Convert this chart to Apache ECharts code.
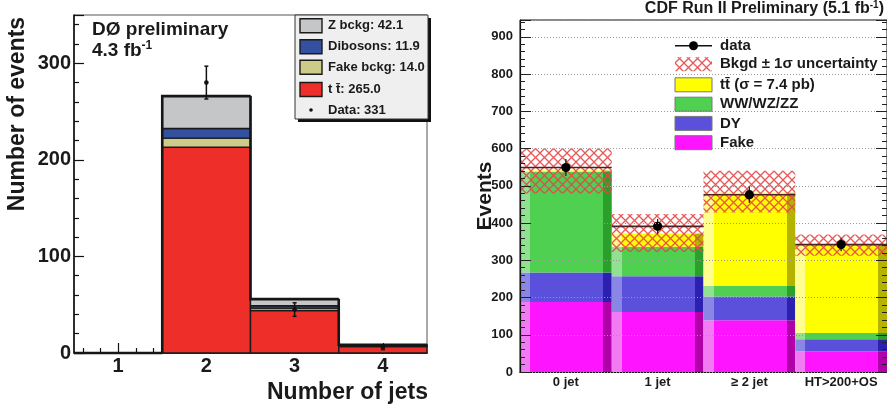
<!DOCTYPE html>
<html><head><meta charset="utf-8">
<script src="https://cdn.jsdelivr.net/npm/echarts@6/dist/echarts.min.js"></script>
<style>html,body{margin:0;padding:0;background:#fff}#c{width:887px;height:412px}</style>
</head><body><div id="c"></div>
<script>
// ---------- Left panel (DØ) ----------
const jetBins = [1, 2, 3, 4];
const jetTickLabels = ['1', '2', '3', '4'];
const jetMinorTicks = [0.6, 0.8, 1.2, 1.4, 1.6, 1.8, 2.2, 2.4, 2.6, 2.8, 3.2, 3.4, 3.6, 3.8, 4.2, 4.4];
const ttbarD0 = [0, 213, 44, 6.8];
const fakeD0 = [0, 9.5, 2.5, 0.5];
const dibosonD0 = [0, 10, 2.5, 0.3];
const zD0 = [0, 33.5, 6.8, 0.9];
const dataD0 = [null, 280, 45, 6];
const dataErrD0 = [null, 17, 7, 2.5];
const legendD0 = ['Z bckg: 42.1', 'Dibosons: 11.9', 'Fake bckg: 14.0', 't t\u0304: 265.0', 'Data: 331'];

// ---------- Right panel (CDF) ----------
const cdfCats = ['0 jet', '1 jet', '\u2265 2 jet', 'HT>200+OS'];
const fakeCDF = [188, 161, 139, 56];
const dyCDF = [79, 96, 64, 32];
const dibCDF = [270, 79, 28, 17];
const ttCDF = [4, 36, 250, 237];
const bandLowCDF = [479, 322, 428, 312];
const bandHighCDF = [601, 424, 540, 369];
const dataCDF = [549, 391, 476, 342];
const dataErrCDF = [23, 20, 22, 18];
const legendCDF = ['data', 'Bkgd \u00b1 1\u03c3 uncertainty', 'tt\u0304 (\u03c3 = 7.4 pb)', 'WW/WZ/ZZ', 'DY', 'Fake'];

const FONT = "'Liberation Sans', Arial, Helvetica, sans-serif";
const D0C = { z: '#c5c6c8', dib: '#3450a0', fake: '#cccc88', tt: '#ee2e28' };
const CDFC = {
  fake: ['#f27af2', '#ff14ff', '#b000a8'],
  dy: ['#8a86e6', '#5a50dc', '#2c20b0'],
  dib: ['#92e092', '#50d050', '#2aa02a'],
  tt: ['#ffff90', '#ffff00', '#b4b400']
};

// hatch pattern
const hatch = document.createElement('canvas');
hatch.width = 9; hatch.height = 9;
const hc = hatch.getContext('2d');
hc.strokeStyle = 'rgba(228,70,70,0.9)'; hc.lineWidth = 1.3;
hc.beginPath(); hc.moveTo(0, 0); hc.lineTo(9, 9); hc.moveTo(9, 0); hc.lineTo(0, 9); hc.stroke();
const hatchFill = { image: hatch, repeat: 'repeat' };

function stackBases(layers) {
  const bases = []; let acc = layers[0].map(() => 0);
  layers.forEach(l => { bases.push(acc.slice()); acc = acc.map((a, i) => a + l[i]); });
  return { bases, tops: acc };
}
const d0 = stackBases([ttbarD0, fakeD0, dibosonD0, zD0]);
const cdf = stackBases([fakeCDF, dyCDF, dibCDF, ttCDF]);

function d0Layer(vals, bases, color) {
  return {
    type: 'custom', xAxisIndex: 0, yAxisIndex: 0, z: 2,
    data: jetBins.map((b, i) => [b, bases[i], bases[i] + vals[i]]),
    renderItem(p, api) {
      const x = api.value(0), lo = api.value(1), hi = api.value(2);
      if (hi - lo <= 0) return null;
      const a = api.coord([x - 0.5, hi]), b = api.coord([x + 0.5, lo]);
      return { type: 'rect', shape: { x: a[0], y: a[1], width: b[0] - a[0], height: b[1] - a[1] },
        style: { fill: color, stroke: '#1a1a1a', lineWidth: 1.4 } };
    }
  };
}
const d0Outline = {
  type: 'custom', xAxisIndex: 0, yAxisIndex: 0, z: 3,
  data: jetBins.map((b, i) => [b, d0.tops[i], i > 0 ? d0.tops[i - 1] : 0]),
  renderItem(p, api) {
    const x = api.value(0), t = api.value(1), pr = api.value(2);
    const p0 = api.coord([x - 0.5, pr]), p1 = api.coord([x - 0.5, t]), p2 = api.coord([x + 0.5, t]);
    return { type: 'polyline', shape: { points: [p0, p1, p2] }, style: { stroke: '#161616', lineWidth: 2.6, fill: null } };
  }
};
const d0Data = {
  type: 'custom', xAxisIndex: 0, yAxisIndex: 0, z: 4,
  data: jetBins.map((b, i) => [b, dataD0[i], dataErrD0[i]]).filter(d => d[1] != null),
  renderItem(p, api) {
    const x = api.value(0), v = api.value(1), e = api.value(2);
    const c = api.coord([x, v]), up = api.coord([x, v + e]), dn = api.coord([x, v - e]);
    return { type: 'group', children: [
      { type: 'line', shape: { x1: c[0], y1: up[1], x2: c[0], y2: dn[1] }, style: { stroke: '#111', lineWidth: 1.5 } },
      { type: 'line', shape: { x1: c[0] - 2, y1: up[1], x2: c[0] + 2, y2: up[1] }, style: { stroke: '#111', lineWidth: 1.5 } },
      { type: 'line', shape: { x1: c[0] - 2, y1: dn[1], x2: c[0] + 2, y2: dn[1] }, style: { stroke: '#111', lineWidth: 1.5 } },
      { type: 'circle', shape: { cx: c[0], cy: c[1], r: 2.3 }, style: { fill: '#111' } }
    ] };
  }
};

function shadedFill(c) {
  return new echarts.graphic.LinearGradient(0, 0, 1, 0, [
    { offset: 0, color: c[0] }, { offset: 0.11, color: c[0] }, { offset: 0.11, color: c[1] },
    { offset: 0.905, color: c[1] }, { offset: 0.905, color: c[2] }, { offset: 1, color: c[2] }]);
}
function cdfLayer(vals, bases, c) {
  return {
    type: 'custom', xAxisIndex: 1, yAxisIndex: 1, z: 2,
    data: cdfCats.map((n, i) => [i, bases[i], bases[i] + vals[i]]),
    renderItem(p, api) {
      const i = api.value(0), lo = api.value(1), hi = api.value(2);
      const a = api.coord([i, hi]), b = api.coord([i, lo]), w = api.size([1, 0])[0];
      return { type: 'rect', shape: { x: a[0] - w / 2, y: a[1], width: w, height: b[1] - a[1] },
        style: { fill: shadedFill(c) } };
    }
  };
}
const cdfBand = {
  type: 'custom', xAxisIndex: 1, yAxisIndex: 1, z: 3,
  data: cdfCats.map((n, i) => [i, bandLowCDF[i], bandHighCDF[i]]),
  renderItem(p, api) {
    const i = api.value(0), lo = api.value(1), hi = api.value(2);
    const a = api.coord([i, hi]), b = api.coord([i, lo]), w = api.size([1, 0])[0];
    return { type: 'rect', shape: { x: a[0] - w / 2, y: a[1], width: w, height: b[1] - a[1] },
      style: { fill: hatchFill } };
  }
};
const cdfData = {
  type: 'custom', xAxisIndex: 1, yAxisIndex: 1, z: 4,
  data: cdfCats.map((n, i) => [i, dataCDF[i], dataErrCDF[i]]),
  renderItem(p, api) {
    const i = api.value(0), v = api.value(1), e = api.value(2);
    const c = api.coord([i, v]), up = api.coord([i, v + e]), dn = api.coord([i, v - e]), w = api.size([1, 0])[0];
    return { type: 'group', children: [
      { type: 'line', shape: { x1: c[0] - w / 2, y1: c[1], x2: c[0] + w / 2, y2: c[1] }, style: { stroke: '#4a2222', lineWidth: 1.6 } },
      { type: 'line', shape: { x1: c[0], y1: up[1], x2: c[0], y2: dn[1] }, style: { stroke: '#222', lineWidth: 1.3 } },
      { type: 'circle', shape: { cx: c[0], cy: c[1], r: 4.6 }, style: { fill: '#000' } }
    ] };
  }
};

// legends (graphic)
const g = [];
// DØ texts
g.push({ type: 'text', x: 92, y: 30, style: { text: 'D\u00d8 preliminary', font: 'bold 19px ' + FONT, fill: '#1a1a1a', verticalAlign: 'middle' } });
g.push({ type: 'text', x: 92, y: 51, style: { text: '{a|4.3 fb}{s|-1}', verticalAlign: 'middle',
  rich: { a: { font: 'bold 19px ' + FONT, fill: '#1a1a1a', lineHeight: 22 }, s: { font: 'bold 12px ' + FONT, fill: '#1a1a1a', verticalAlign: 'top', lineHeight: 22 } } } });
g.push({ type: 'text', x: 18, y: 114, rotation: Math.PI / 2, style: { text: 'Number of events', font: 'bold 23px ' + FONT, fill: '#1a1a1a', align: 'center', verticalAlign: 'middle' } });
g.push({ type: 'text', x: 428, y: 393, style: { text: 'Number of jets', font: 'bold 23px ' + FONT, fill: '#1a1a1a', align: 'right', verticalAlign: 'middle' } });
// DØ legend box
g.push({ type: 'rect', shape: { x: 298, y: 18, width: 133, height: 104 }, style: { fill: '#111' }, z: 20 });
g.push({ type: 'rect', shape: { x: 295, y: 15, width: 133, height: 104 }, style: { fill: '#efefef', stroke: '#333', lineWidth: 1 }, z: 21 });
const d0Sw = [D0C.z, D0C.dib, D0C.fake, D0C.tt];
const d0Rows = [25.7, 46.7, 67.3, 89.5, 110];
d0Rows.forEach((y, k) => {
  if (k < 4) g.push({ type: 'rect', shape: { x: 300, y: y - 7, width: 22, height: 14 }, style: { fill: d0Sw[k], stroke: '#1a1a1a', lineWidth: 1.4 }, z: 22 });
  else g.push({ type: 'circle', shape: { cx: 311, cy: y, r: 1.8 }, style: { fill: '#111' }, z: 22 });
  g.push({ type: 'text', x: 328, y: y, style: { text: legendD0[k], font: 'bold 13px ' + FONT, fill: '#1a1a1a', verticalAlign: 'middle' }, z: 22 });
});
// CDF texts
g.push({ type: 'text', x: 884, y: 9, style: { text: '{t|CDF Run II Preliminary (5.1 fb}{s|-1}{t|)}', align: 'right', verticalAlign: 'middle',
  rich: { t: { font: 'bold 16px ' + FONT, fill: '#1a1a1a', lineHeight: 18 }, s: { font: 'bold 10px ' + FONT, fill: '#1a1a1a', verticalAlign: 'top', lineHeight: 18 } } } });
g.push({ type: 'text', x: 485, y: 196, rotation: Math.PI / 2, style: { text: 'Events', font: 'bold 21px ' + FONT, fill: '#1a1a1a', align: 'center', verticalAlign: 'middle' } });
const cdfRows = [45.7, 64.3, 84.8, 104.2, 123.4, 142.7];
const cdfSw = [null, null, CDFC.tt[1], CDFC.dib[1], CDFC.dy[1], CDFC.fake[1]];
cdfRows.forEach((y, k) => {
  if (k === 0) {
    g.push({ type: 'line', shape: { x1: 675, y1: y, x2: 712, y2: y }, style: { stroke: '#111', lineWidth: 1.5 }, z: 22 });
    g.push({ type: 'circle', shape: { cx: 693.5, cy: y, r: 4.5 }, style: { fill: '#000' }, z: 22 });
  } else if (k === 1) {
    g.push({ type: 'rect', shape: { x: 675, y: y - 7, width: 37, height: 14 }, style: { fill: hatchFill }, z: 22 });
  } else {
    g.push({ type: 'rect', shape: { x: 675, y: y - 7, width: 37, height: 14 }, style: { fill: cdfSw[k], stroke: '#777', lineWidth: 1 }, z: 22 });
  }
  g.push({ type: 'text', x: 720, y: y, style: { text: legendCDF[k], font: 'bold 15px ' + FONT, fill: '#1a1a1a', verticalAlign: 'middle' }, z: 22 });
});

const option = {
  animation: false,
  backgroundColor: '#fff',
  grid: [
    { left: 74, top: 15, width: 353, height: 338, show: true, borderColor: '#555', borderWidth: 1, backgroundColor: 'transparent' },
    { left: 520, top: 20, width: 367, height: 352, show: true, borderColor: '#111', borderWidth: 1, backgroundColor: 'transparent' }
  ],
  xAxis: [
    { gridIndex: 0, type: 'value', min: 0.5, max: 4.5,
      axisLine: { lineStyle: { color: '#111', width: 1.5 } },
      axisTick: { inside: true, length: 10, customValues: jetBins, lineStyle: { color: '#111', width: 1.2 } },
      axisLabel: { customValues: jetBins, formatter: v => jetTickLabels[jetBins.indexOf(v)], fontSize: 20, fontWeight: 'bold', fontFamily: FONT, color: '#1a1a1a', margin: 3 },
      splitLine: { show: false } },
    { gridIndex: 1, type: 'category', data: cdfCats, position: 'bottom',
      axisLine: { lineStyle: { color: '#111', width: 1.2 } }, axisTick: { show: false },
      axisLabel: { interval: 0, fontSize: 13, fontWeight: 'bold', fontFamily: FONT, color: '#1a1a1a', margin: 4 }, splitLine: { show: false } },
    { gridIndex: 1, type: 'category', data: cdfCats, position: 'top',
      axisLine: { lineStyle: { color: '#111', width: 1 } },
      axisTick: { inside: true, interval: 0, length: 10, lineStyle: { color: '#222', width: 1 } },
      axisLabel: { show: false }, splitLine: { show: false } },
    { gridIndex: 0, type: 'value', min: 0.5, max: 4.5, position: 'bottom',
      axisLine: { show: false },
      axisTick: { inside: true, length: 5, customValues: jetMinorTicks, lineStyle: { color: '#111', width: 1.2 } },
      axisLabel: { show: false }, splitLine: { show: false } }
  ],
  yAxis: [
    { gridIndex: 0, type: 'value', min: 0, max: 350, interval: 100,
      axisLine: { show: true, lineStyle: { color: '#111', width: 1.6 } },
      axisTick: { show: true, inside: true, length: 10, lineStyle: { color: '#111', width: 1.2 } },
      minorTick: { show: true, splitNumber: 5, length: 5, lineStyle: { color: '#111', width: 1.2 } },
      axisLabel: { showMaxLabel: false, fontSize: 20, fontWeight: 'bold', fontFamily: FONT, color: '#1a1a1a', margin: 3 },
      splitLine: { show: false } },
    { gridIndex: 1, type: 'value', min: 0, max: 945, interval: 100, z: 5,
      axisLine: { show: true, lineStyle: { color: '#111', width: 1.2 } },
      axisTick: { show: true, inside: true, length: 11, lineStyle: { color: '#222', width: 1 } },
      minorTick: { show: true, splitNumber: 5, length: 5, lineStyle: { color: '#222', width: 1 } },
      axisLabel: { showMaxLabel: false, fontSize: 13, fontWeight: 'bold', fontFamily: FONT, color: '#1a1a1a', margin: 7 },
      splitLine: { show: true, lineStyle: { color: '#999', width: 1, type: [1, 2] } } },
    { gridIndex: 1, type: 'value', min: 0, max: 945, interval: 100, position: 'right', z: 5,
      axisLine: { show: false },
      axisTick: { show: true, inside: true, length: 11, lineStyle: { color: '#222', width: 1 } },
      minorTick: { show: true, splitNumber: 5, length: 5, lineStyle: { color: '#222', width: 1 } },
      axisLabel: { show: false }, splitLine: { show: false } }
  ],
  series: [
    d0Layer(ttbarD0, d0.bases[0], D0C.tt),
    d0Layer(fakeD0, d0.bases[1], D0C.fake),
    d0Layer(dibosonD0, d0.bases[2], D0C.dib),
    d0Layer(zD0, d0.bases[3], D0C.z),
    d0Outline,
    d0Data,
    cdfLayer(fakeCDF, cdf.bases[0], CDFC.fake),
    cdfLayer(dyCDF, cdf.bases[1], CDFC.dy),
    cdfLayer(dibCDF, cdf.bases[2], CDFC.dib),
    cdfLayer(ttCDF, cdf.bases[3], CDFC.tt),
    cdfBand,
    cdfData
  ],
  graphic: { elements: g }
};
const chart = echarts.init(document.getElementById('c'), null, { renderer: 'canvas' });
chart.setOption(option);
</script></body></html>
